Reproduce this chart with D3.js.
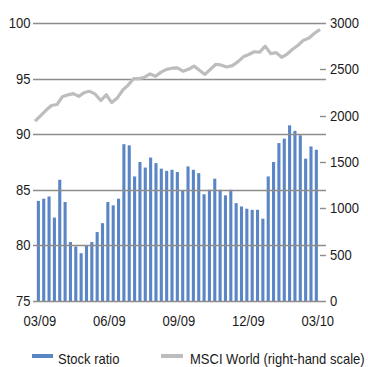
<!DOCTYPE html>
<html><head><meta charset="utf-8">
<script src="https://cdn.jsdelivr.net/npm/d3@7"></script>
<style>
html,body{margin:0;padding:0;background:#fff;}
svg{display:block;}
text{font-family:"Liberation Sans",Arial,sans-serif;font-size:14px;fill:#1a1a1a;}
</style></head>
<body><svg id="c" width="368" height="367"></svg>
<script>
// Weekly data, 03/2009 – 03/2010
const stockRatio = [84.0,84.2,84.4,82.5,85.9,83.9,80.3,79.9,79.3,80.0,80.3,81.2,82.0,83.9,83.6,84.2,89.1,89.0,86.2,87.5,87.0,87.9,87.4,86.9,86.7,86.8,86.6,84.9,87.1,86.8,86.5,84.6,85.0,86.0,85.0,84.5,85.0,83.8,83.5,83.3,83.2,83.2,82.4,86.2,87.5,89.2,89.6,90.8,90.3,89.9,87.8,88.9,88.6];
const msciWorld = [1940,1999,2058,2110,2120,2205,2225,2238,2208,2250,2263,2232,2163,2226,2141,2190,2275,2330,2400,2400,2415,2450,2425,2470,2500,2512,2515,2480,2500,2535,2490,2445,2500,2555,2545,2525,2540,2580,2635,2660,2690,2686,2750,2670,2680,2630,2665,2717,2760,2815,2838,2890,2931];
const xTickLabels = ["03/09","06/09","09/09","12/09","03/10"];
const xTickIndex = [0,13,26,39,52];
const leftTicks = [75,80,85,90,95,100];
const rightTicks = [0,500,1000,1500,2000,2500,3000];
const seriesNames = ["Stock ratio","MSCI World (right-hand scale)"];

const SX = 0.93; // slightly condensed font emulation
function narrowText(sel, x, y){
  sel.attr("transform", (d,i)=>`translate(${typeof x==="function"?x(d,i):x},${typeof y==="function"?y(d,i):y}) scale(${SX},1)`);
}

const svg = d3.select("#c");
const plotL = 33, plotR = 324, plotT = 23, plotB = 301;
const idx = d3.range(stockRatio.length);

const x = d3.scaleBand().domain(idx).range([35.7, 319.0]).paddingInner(0.42).paddingOuter(0.21);
const xl = d3.scalePoint().domain(idx).range([35, 320]);
const yL = d3.scaleLinear().domain([75,100]).range([plotB, plotT]);
const yR = d3.scaleLinear().domain([0,3000]).range([plotB, plotT]);

// bars
svg.append("g").selectAll("rect").data(stockRatio).join("rect")
  .attr("x", (d,i)=>x(i)).attr("width", x.bandwidth())
  .attr("y", d=>yL(d)).attr("height", d=>yL(75)-yL(d))
  .attr("fill", "#5b86c6");

// gridlines (left scale)
svg.append("g").selectAll("line").data(leftTicks).join("line")
  .attr("x1", plotL).attr("x2", plotR+2)
  .attr("y1", d=>Math.round(yL(d))+0.5).attr("y2", d=>Math.round(yL(d))+0.5)
  .attr("stroke", "#8f8c8a").attr("stroke-width", 1.4);

// left axis labels
svg.append("g").selectAll("text").data(leftTicks).join("text")
  .attr("dy","0.35em").attr("text-anchor","end").text(d=>d)
  .call(narrowText, 30.5, d=>yL(d));

// right axis
const ra = svg.append("g").attr("transform", `translate(${plotR+2},0)`)
  .call(d3.axisRight(yR).tickValues(rightTicks).tickSize(0).tickPadding(0).tickFormat(d3.format("d")));
ra.select(".domain").remove();
ra.attr("font-size", null).attr("font-family", null);
ra.selectAll("text").attr("fill","#1a1a1a").attr("x", null).call(narrowText, 4, 0);
svg.append("g").selectAll("line").data(rightTicks.filter(d=>d>0 && d<3000)).join("line")
  .attr("x1", plotR-4).attr("x2", plotR+2)
  .attr("y1", d=>Math.round(yR(d))+0.5).attr("y2", d=>Math.round(yR(d))+0.5)
  .attr("stroke", "#8f8c8a").attr("stroke-width", 1.4);

// x labels
svg.append("g").selectAll("text").data(xTickIndex).join("text")
  .attr("text-anchor","middle").text((d,i)=>xTickLabels[i])
  .call(narrowText, d=>x(d)+x.bandwidth()/2+1.5, 326);

// line
svg.append("path").datum(msciWorld)
  .attr("d", d3.line().x((d,i)=>xl(i)).y(d=>yR(d)))
  .attr("fill","none").attr("stroke","#bdbdbd").attr("stroke-width",3.2)
  .attr("stroke-linejoin","round");

// legend
const lg = svg.append("g");
lg.append("line").attr("x1",32).attr("x2",53).attr("y1",356).attr("y2",356).attr("stroke","#5b86c6").attr("stroke-width",4);
lg.append("text").text(seriesNames[0]).call(narrowText, 58, 364);
lg.append("line").attr("x1",161).attr("x2",183).attr("y1",356).attr("y2",356).attr("stroke","#bdbdbd").attr("stroke-width",4);
lg.append("text").text(seriesNames[1]).call(narrowText, 190, 364);
</script></body></html>
